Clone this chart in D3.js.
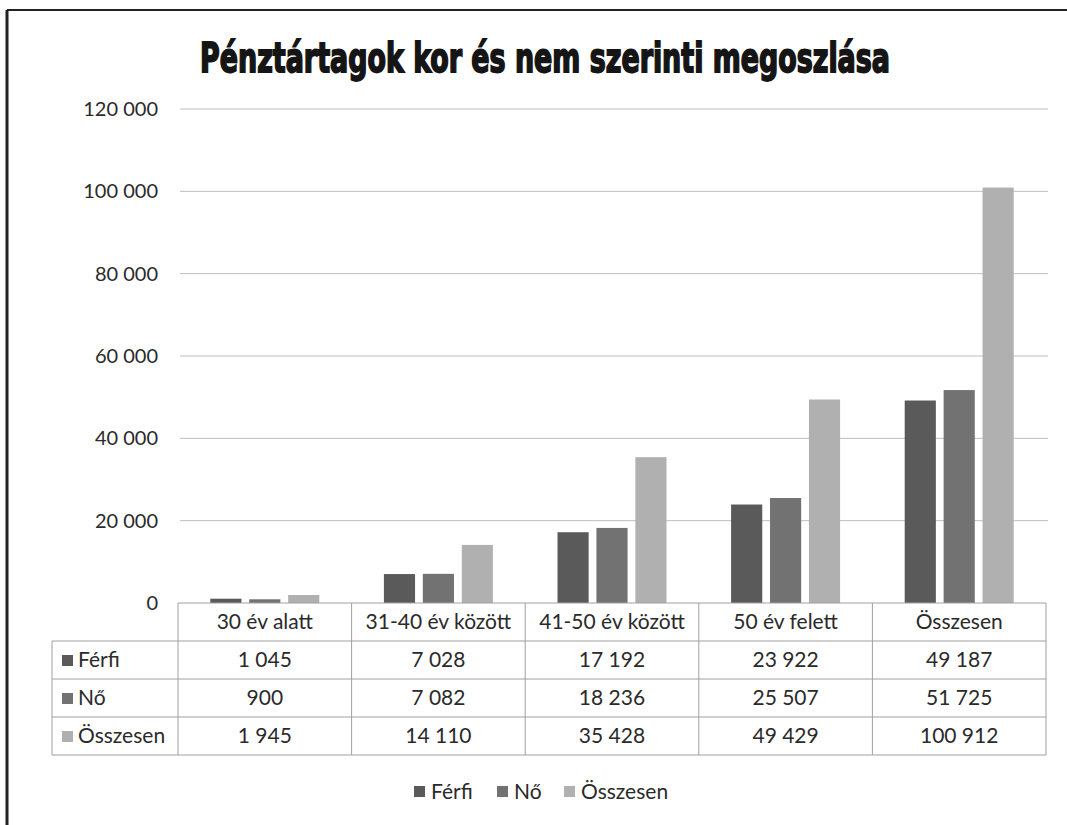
<!DOCTYPE html>
<html><head><meta charset="utf-8">
<script src="https://cdn.jsdelivr.net/npm/d3@7/dist/d3.min.js"></script>
<style>
html,body{margin:0;padding:0;background:#fff;}
svg{display:block;}
</style>
</head><body>
<svg id="c" width="1067" height="825"></svg>
<script>
const title = "Pénztártagok kor és nem szerinti megoszlása";
const categories = ["30 év alatt", "31-40 év között", "41-50 év között", "50 év felett", "Összesen"];
const seriesNames = ["Férfi", "Nő", "Összesen"];
const ferfi = [1045, 7028, 17192, 23922, 49187];
const no = [900, 7082, 18236, 25507, 51725];
const osszesen = [1945, 14110, 35428, 49429, 100912];
const yTicks = [0, 20000, 40000, 60000, 80000, 100000, 120000];
const colors = ["#5a5a5a", "#727272", "#b0b0b0"];

const seriesValues = [ferfi, no, osszesen];
const loc = d3.formatLocale({decimal: ",", thousands: " ", grouping: [3], currency: ["", ""]});
const fmt = loc.format(",d");

const svg = d3.select("#c");
const font = "Lato, 'Open Sans', 'Liberation Sans', sans-serif";
const txtCol = "#2a2a2a";

// frame
svg.append("line").attr("x1", 7).attr("x2", 1067).attr("y1", 10).attr("y2", 10)
  .attr("stroke", "#222").attr("stroke-width", 2);
svg.append("line").attr("x1", 7).attr("x2", 7).attr("y1", 10).attr("y2", 825)
  .attr("stroke", "#222").attr("stroke-width", 3);

// title (heavy condensed look: narrow bold font, horizontally fitted)
const tt = svg.append("text").attr("x", 0).attr("y", 0).attr("text-anchor", "middle")
  .attr("font-family", "'Liberation Sans Narrow', 'DejaVu Sans Condensed', sans-serif")
  .attr("font-weight", "bold").attr("font-size", 41)
  .attr("fill", "#151515").attr("stroke", "#151515").attr("stroke-width", 1.8)
  .text(title);
const natW = tt.node().getComputedTextLength();
const targetW = 690;
tt.attr("transform", `translate(545,72) scale(${targetW / natW},1)`);

const x0 = d3.scaleBand().domain(categories).range([178, 1046]).paddingInner(0).paddingOuter(0);
const x1 = d3.scaleBand().domain(seriesNames).range([0, x0.bandwidth()]).paddingInner(0.2).paddingOuter(0.83);
const y = d3.scaleLinear().domain([0, 120000]).range([603, 109]);

// gridlines
svg.append("g").selectAll("line").data(yTicks.filter(d => d > 0)).join("line")
  .attr("x1", 180).attr("x2", 1048)
  .attr("y1", d => y(d)).attr("y2", d => y(d))
  .attr("stroke", "#bdbdbd").attr("stroke-width", 1);

// y axis labels
const yAxis = d3.axisLeft(y).tickValues(yTicks).tickFormat(fmt).tickSize(0).tickPadding(0);
const ya = svg.append("g").attr("transform", "translate(158,0)").call(yAxis);
ya.select(".domain").remove();
ya.selectAll("text").attr("font-family", font).attr("font-size", 20).attr("fill", txtCol);

// bars
const gcat = svg.append("g").selectAll("g").data(categories).join("g")
  .attr("transform", d => `translate(${x0(d)},0)`);
gcat.selectAll("rect").data((c, i) => seriesNames.map((s, j) => ({s, j, v: seriesValues[j][i]}))).join("rect")
  .attr("x", d => x1(d.s)).attr("width", x1.bandwidth())
  .attr("y", d => y(d.v)).attr("height", d => y(0) - y(d.v))
  .attr("fill", d => colors[d.j]);

// data table
const rowH = 38;
const tTop = 603;
const tLeft = 52;
const tRight = 1046;
const tg = svg.append("g");
const lineColor = "#a0a0a0";
tg.append("line").attr("x1", 178).attr("x2", tRight).attr("y1", tTop).attr("y2", tTop).attr("stroke", lineColor);
for (let r = 1; r <= 4; r++) {
  tg.append("line").attr("x1", tLeft).attr("x2", tRight).attr("y1", tTop + r * rowH).attr("y2", tTop + r * rowH).attr("stroke", lineColor);
}
tg.append("line").attr("x1", tLeft).attr("x2", tLeft).attr("y1", tTop + rowH).attr("y2", tTop + 4 * rowH).attr("stroke", lineColor);
categories.forEach(c => {
  tg.append("line").attr("x1", x0(c)).attr("x2", x0(c)).attr("y1", tTop).attr("y2", tTop + 4 * rowH).attr("stroke", lineColor);
});
tg.append("line").attr("x1", tRight).attr("x2", tRight).attr("y1", tTop).attr("y2", tTop + 4 * rowH).attr("stroke", lineColor);

const tfs = 21;
tg.selectAll("text.hdr").data(categories).join("text").attr("class", "hdr")
  .attr("x", d => x0(d) + x0.bandwidth() / 2).attr("y", tTop + rowH / 2 + 7)
  .attr("text-anchor", "middle").attr("font-family", font).attr("font-size", tfs).attr("fill", txtCol)
  .text(d => d);

seriesNames.forEach((s, j) => {
  const cy = tTop + rowH * (j + 1) + rowH / 2;
  tg.append("rect").attr("x", 62).attr("y", cy - 5).attr("width", 11).attr("height", 11).attr("fill", colors[j]);
  tg.append("text").attr("x", 78).attr("y", cy + 7).attr("font-family", font).attr("font-size", tfs).attr("fill", txtCol).text(s);
  tg.selectAll(null).data(categories).join("text")
    .attr("x", d => x0(d) + x0.bandwidth() / 2).attr("y", cy + 7)
    .attr("text-anchor", "middle").attr("font-family", font).attr("font-size", tfs).attr("fill", txtCol)
    .text((d, i) => fmt(seriesValues[j][i]));
});

// legend
const legX = [414, 497, 564];
const lg = svg.append("g");
seriesNames.forEach((s, j) => {
  lg.append("rect").attr("x", legX[j]).attr("y", 786).attr("width", 11).attr("height", 11).attr("fill", colors[j]);
  lg.append("text").attr("x", legX[j] + 17).attr("y", 799).attr("font-family", font).attr("font-size", 21).attr("fill", txtCol).text(s);
});
</script>
</body></html>
